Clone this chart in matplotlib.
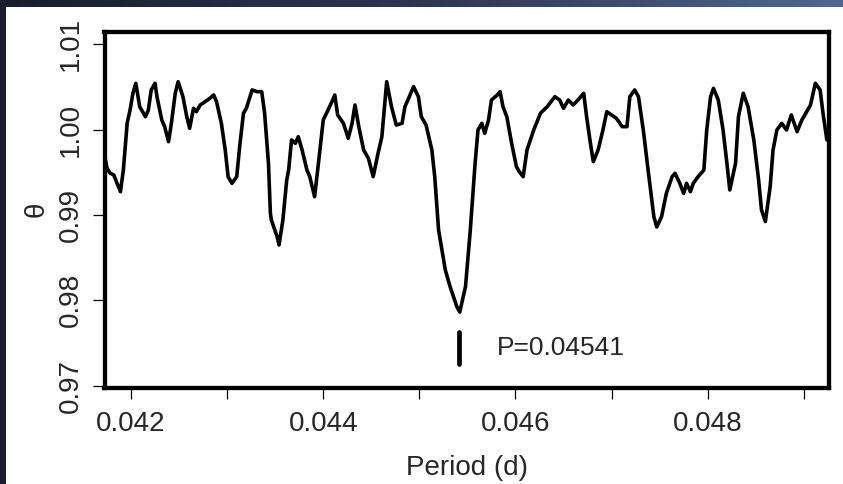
import numpy as np
import matplotlib
matplotlib.use("Agg")
import matplotlib.pyplot as plt
from matplotlib.colors import LinearSegmentedColormap

# PDM periodogram: theta statistic versus trial period
period = [
    0.04173, 0.04175, 0.04178, 0.04182, 0.04189, 0.04192, 0.04196, 0.04199,
    0.04202, 0.04205, 0.04209, 0.04215, 0.04218, 0.04221, 0.04223, 0.04225,
    0.04227, 0.04232, 0.04235, 0.04239, 0.04242, 0.04246, 0.04249, 0.04254,
    0.04258, 0.04261, 0.04265, 0.04268, 0.04272, 0.04277, 0.04282, 0.04286,
    0.04289, 0.04294, 0.04298, 0.04301, 0.04305, 0.04310, 0.04313, 0.04317,
    0.04320, 0.04326, 0.04331, 0.04336, 0.04339, 0.04343, 0.04345, 0.04346,
    0.04352, 0.04354, 0.04358, 0.04362, 0.04364, 0.04367, 0.04371, 0.04374,
    0.04378, 0.04383, 0.04386, 0.04391, 0.04395, 0.04400, 0.04405, 0.04409,
    0.04412, 0.04415, 0.04421, 0.04426, 0.04430, 0.04433, 0.04437, 0.04442,
    0.04447, 0.04452, 0.04457, 0.04461, 0.04466, 0.04471, 0.04476, 0.04482,
    0.04485, 0.04494, 0.04499, 0.04502, 0.04507, 0.04513, 0.04516, 0.04520,
    0.04527, 0.04532, 0.04539, 0.04542, 0.04548, 0.04553, 0.04558, 0.04561,
    0.04565, 0.04568, 0.04572, 0.04575, 0.04581, 0.04584, 0.04587, 0.04591,
    0.04596, 0.04601, 0.04604, 0.04608, 0.04612, 0.04619, 0.04626, 0.04633,
    0.04641, 0.04646, 0.04650, 0.04655, 0.04660, 0.04665, 0.04671, 0.04674,
    0.04678, 0.04681, 0.04686, 0.04691, 0.04695, 0.04700, 0.04705, 0.04711,
    0.04716, 0.04719, 0.04724, 0.04728, 0.04733, 0.04738, 0.04744, 0.04747,
    0.04752, 0.04757, 0.04763, 0.04766, 0.04771, 0.04775, 0.04778, 0.04782,
    0.04785, 0.04790, 0.04796, 0.04799, 0.04803, 0.04806, 0.04811, 0.04816,
    0.04820, 0.04823, 0.04829, 0.04832, 0.04837, 0.04842, 0.04848, 0.04853,
    0.04856, 0.04860, 0.04865, 0.04868, 0.04872, 0.04877, 0.04882, 0.04887,
    0.04893, 0.04898, 0.04903, 0.04907, 0.04912, 0.04917, 0.04920, 0.04924,
]
theta = [
    0.99668, 0.99551, 0.99492, 0.99469, 0.99273, 0.99527, 1.00078, 1.00230,
    1.00429, 1.00543, 1.00269, 1.00152, 1.00230, 1.00465, 1.00503, 1.00543,
    1.00386, 1.00113, 1.00035, 0.99859, 1.00074, 1.00426, 1.00562, 1.00386,
    1.00152, 1.00016, 1.00250, 1.00210, 1.00289, 1.00327, 1.00367, 1.00406,
    1.00327, 1.00074, 0.99762, 0.99449, 0.99371, 0.99449, 0.99800, 1.00192,
    1.00250, 1.00465, 1.00445, 1.00445, 1.00192, 0.99606, 0.99020, 0.98941,
    0.98746, 0.98649, 0.98941, 0.99410, 0.99527, 0.99879, 0.99840, 0.99917,
    0.99762, 0.99527, 0.99449, 0.99214, 0.99606, 1.00113, 1.00230, 1.00327,
    1.00406, 1.00172, 1.00074, 0.99899, 1.00074, 1.00289, 1.00035, 0.99762,
    0.99664, 0.99449, 0.99723, 0.99917, 1.00562, 1.00269, 1.00054, 1.00074,
    1.00269, 1.00503, 1.00386, 1.00152, 1.00054, 0.99762, 0.99449, 0.98824,
    0.98356, 0.98160, 0.97926, 0.97863, 0.98160, 0.98824, 0.99606, 0.99996,
    1.00074, 0.99957, 1.00113, 1.00347, 1.00406, 1.00445, 1.00269, 1.00152,
    0.99840, 0.99566, 0.99507, 0.99449, 0.99762, 0.99996, 1.00192, 1.00269,
    1.00386, 1.00347, 1.00250, 1.00347, 1.00289, 1.00347, 1.00426, 1.00152,
    0.99840, 0.99625, 0.99762, 0.99996, 1.00210, 1.00172, 1.00133, 1.00035,
    1.00035, 1.00386, 1.00465, 1.00386, 0.99996, 0.99527, 0.98980, 0.98859,
    0.98980, 0.99254, 0.99449, 0.99489, 0.99371, 0.99254, 0.99371, 0.99273,
    0.99371, 0.99449, 0.99527, 0.99996, 1.00386, 1.00484, 1.00347, 0.99996,
    0.99606, 0.99293, 0.99606, 1.00152, 1.00426, 1.00269, 0.99879, 0.99410,
    0.99059, 0.98923, 0.99332, 0.99762, 0.99996, 1.00074, 0.99996, 1.00172,
    0.99976, 1.00113, 1.00210, 1.00289, 1.00543, 1.00465, 1.00192, 0.99879,
]

best_period = 0.04541
best_label = "P=0.04541"
marker_span = [0.9725, 0.9763]

x_ticks = [0.042, 0.043, 0.044, 0.045, 0.046, 0.047, 0.048, 0.049]
x_tick_labels = ["0.042", "", "0.044", "", "0.046", "", "0.048", ""]
y_ticks = [0.97, 0.98, 0.99, 1.00, 1.01]
y_tick_labels = ["0.97", "0.98", "0.99", "1.00", "1.01"]

plt.rcParams["font.family"] = ["Liberation Sans", "DejaVu Sans"]
text_color = "#262626"

W, H = 843, 484
fig = plt.figure(figsize=(W / 100, H / 100), dpi=100, facecolor="white")

# dark slide border along the top and left edges
top = fig.add_axes([0, 1 - 7 / H, 1, 7 / H])
grad = np.linspace(0, 1, 256)[None, :]
band = LinearSegmentedColormap.from_list("band", ["#1a1e2b", "#2e3650", "#53658e"])
top.imshow(grad, aspect="auto", cmap=band, extent=[0, 1, 0, 1])
top.set_axis_off()
left = fig.add_axes([0, 0, 6 / W, 1 - 7 / H])
left.set_facecolor("#1b1f2c")
left.set_xticks([])
left.set_yticks([])
for s in left.spines.values():
    s.set_visible(False)

ax = fig.add_axes([104.5 / W, 1 - 387.5 / H, 724 / W, 355.5 / H])
ax.plot(period, theta, color="black", lw=2.6, solid_joinstyle="round",
        solid_capstyle="round")
ax.vlines(best_period, marker_span[0], marker_span[1], color="black", lw=3.4,
          capstyle="round")
ax.text(0.04581, 0.97445, best_label, ha="left", va="center", fontsize=19,
        color=text_color)

ax.set_xlim(0.041724, 0.049257)
ax.set_ylim(0.96979, 1.01144)
ax.set_xticks(x_ticks)
ax.set_xticklabels(x_tick_labels)
ax.set_yticks(y_ticks)
ax.set_yticklabels(y_tick_labels, rotation=90, va="center")
ax.tick_params(axis="x", length=8, width=0.9, pad=9, labelsize=20,
               labelcolor=text_color)
ax.tick_params(axis="y", length=9, width=0.9, pad=6, labelsize=20,
               labelcolor=text_color)
for s in ax.spines.values():
    s.set_linewidth(3.1)
ax.set_xlabel("Period (d)", fontsize=20, color=text_color, labelpad=13)
ax.set_ylabel("θ", fontsize=20, color=text_color, labelpad=6)

fig.savefig("out.png", dpi=100, facecolor="white")
